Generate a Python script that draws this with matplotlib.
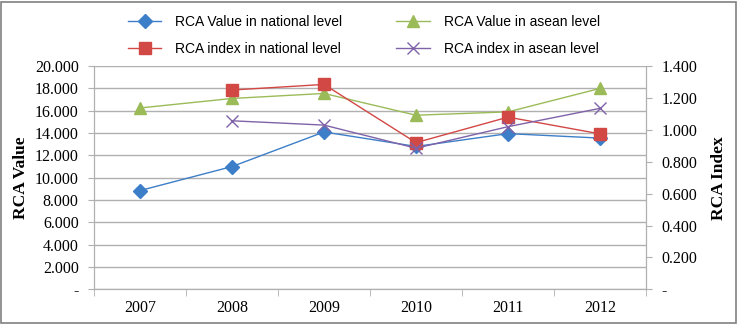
import matplotlib.pyplot as plt
from matplotlib.lines import Line2D
from matplotlib.patches import Rectangle

years = ["2007", "2008", "2009", "2010", "2011", "2012"]

# left axis (RCA Value)
value_national = [8.85, 11.0, 14.1, 12.8, 13.95, 13.55]
value_asean = [16.25, 17.1, 17.55, 15.6, 15.9, 18.0]

# right axis (RCA Index), no 2007 value
index_national = [None, 1.25, 1.285, 0.92, 1.08, 0.975]
index_asean = [None, 1.057, 1.03, 0.885, 1.02, 1.135]

left_ticks = [0, 2, 4, 6, 8, 10, 12, 14, 16, 18, 20]
right_ticks = [0, 0.2, 0.4, 0.6, 0.8, 1.0, 1.2, 1.4]

BLUE = "#3d7ec8"
RED = "#d24845"
GREEN = "#9bbb59"
PURPLE = "#7f62a8"
GRID = "#b0b0b0"
serif = "Liberation Serif"

fig = plt.figure(figsize=(7.38, 3.24), dpi=100)
fig.patches.append(Rectangle((0.002, 0.004), 0.995, 0.99, transform=fig.transFigure,
                             fill=False, edgecolor="#808080", linewidth=1.2))

ax = fig.add_axes([0.1274, 0.107, 0.748, 0.689])
ax2 = ax.twinx()

x = list(range(len(years)))

def fmt(v, dec):
    return "-" if v == 0 else f"{v:.{dec}f}"

ax.plot(x, value_national, color=BLUE, lw=1, marker="D", ms=7.5, zorder=3)
ax.plot(x, value_asean, color=GREEN, lw=1, marker="^", ms=9, zorder=3)

xi = [i for i, v in zip(x, index_national) if v is not None]
ax2.plot(xi, [v for v in index_national if v is not None], color=RED, lw=1,
         marker="s", ms=9, zorder=3)
ax2.plot(xi, [v for v in index_asean if v is not None], color=PURPLE, lw=1,
         marker="x", ms=9, mew=1, zorder=3)

ax.set_xlim(-0.5, 5.5)
ax.set_ylim(0, 20)
ax2.set_ylim(0, 1.4)

ax.set_yticks(left_ticks)
ax.set_yticklabels([fmt(v, 3) for v in left_ticks], fontsize=11.5, family=serif)
ax2.set_yticks(right_ticks)
ax2.set_yticklabels([fmt(v, 3) for v in right_ticks], fontsize=11.5, family=serif)

ax.set_xticks(x)
ax.set_xticklabels(years, fontsize=11.5, family=serif)
ax.set_xticks([i - 0.5 for i in range(len(years) + 1)], minor=True)
ax.tick_params(axis="x", which="major", length=0, pad=8)
ax.tick_params(axis="x", which="minor", length=5, color=GRID)
ax.tick_params(axis="y", length=4, color=GRID, pad=7)
ax2.tick_params(axis="y", length=4, color=GRID, pad=7)

ax.grid(axis="y", color=GRID, lw=1)
ax.set_axisbelow(True)
for a in (ax, ax2):
    a.spines["top"].set_visible(False)
    for s in ("left", "right", "bottom"):
        a.spines[s].set_color(GRID)

ax.set_ylabel("RCA Value", fontsize=12.5, fontweight="bold", family=serif, labelpad=4)
ax2.set_ylabel("RCA Index", fontsize=12.5, fontweight="bold", family=serif,
               rotation=90, labelpad=10)

handles = [
    Line2D([], [], color=BLUE, marker="D", ms=7.5, lw=1),
    Line2D([], [], color=RED, marker="s", ms=9, lw=1),
    Line2D([], [], color=GREEN, marker="^", ms=9, lw=1),
    Line2D([], [], color=PURPLE, marker="x", ms=9, mew=1, lw=1),
]
labels = ["RCA Value in national level", "RCA index in national level",
          "RCA Value in asean level", "RCA index in asean level"]
fig.legend(handles, labels, ncol=2, loc="upper left", bbox_to_anchor=(121 / 738, 0.975),
           frameon=False, prop={"family": "Liberation Sans", "size": 10},
           borderpad=0, columnspacing=3.9, handlelength=2.4, handletextpad=1.0,
           labelspacing=0.9)

fig.savefig("out.png", dpi=100)
